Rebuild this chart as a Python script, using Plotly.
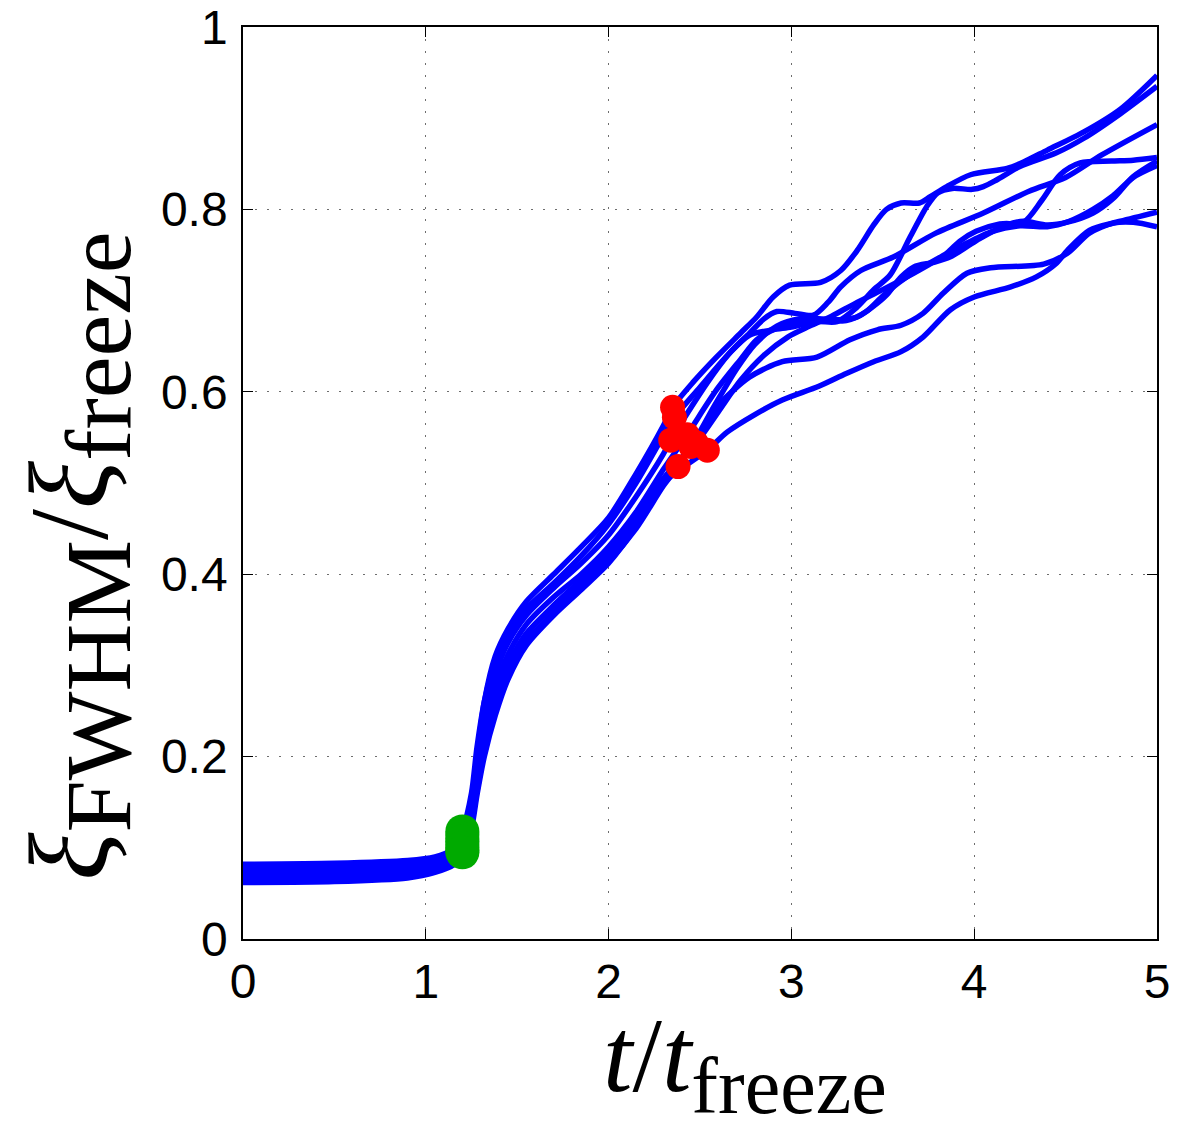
import plotly.graph_objects as go

# ---- data ----
CURVES = ["P", "Q", "R", "E", "F", "G", "H", "I"]

T_EARLY = [0, 0.5, 0.9, 1.05, 1.15, 1.2, 1.25, 1.28, 1.32, 1.38, 1.45, 1.55, 1.7, 1.85, 2.0, 2.15, 2.3]
Y_EARLY = {
    "P": [0.070, 0.071, 0.076, 0.082, 0.090, 0.114, 0.150, 0.200, 0.260, 0.310, 0.340, 0.370, 0.400, 0.430, 0.462, 0.510, 0.563],
    "Q": [0.080, 0.081, 0.084, 0.089, 0.096, 0.118, 0.160, 0.210, 0.260, 0.305, 0.335, 0.362, 0.390, 0.420, 0.455, 0.500, 0.552],
    "R": [0.064, 0.065, 0.070, 0.076, 0.084, 0.103, 0.140, 0.190, 0.240, 0.290, 0.325, 0.355, 0.385, 0.412, 0.443, 0.485, 0.532],
    "E": [0.076, 0.077, 0.080, 0.085, 0.093, 0.110, 0.140, 0.180, 0.228, 0.275, 0.312, 0.345, 0.375, 0.400, 0.430, 0.468, 0.515],
    "F": [0.067, 0.068, 0.072, 0.078, 0.086, 0.097, 0.130, 0.168, 0.212, 0.258, 0.298, 0.334, 0.366, 0.394, 0.424, 0.460, 0.505],
    "G": [0.082, 0.083, 0.086, 0.090, 0.098, 0.107, 0.135, 0.170, 0.215, 0.260, 0.300, 0.335, 0.365, 0.392, 0.420, 0.458, 0.504],
    "H": [0.073, 0.074, 0.077, 0.081, 0.088, 0.100, 0.128, 0.162, 0.205, 0.250, 0.290, 0.326, 0.358, 0.386, 0.414, 0.450, 0.497],
    "I": [0.062, 0.063, 0.067, 0.073, 0.081, 0.095, 0.122, 0.158, 0.200, 0.245, 0.285, 0.322, 0.355, 0.383, 0.412, 0.452, 0.500],
}

T_LATE = {
    "P": [2.35, 2.46, 2.59, 2.72, 2.81, 2.90, 2.99, 3.16, 3.27, 3.36, 3.45, 3.52, 3.60, 3.70, 3.76, 3.85, 3.98, 4.18, 4.27, 4.40, 4.60, 4.80, 5.00],
    "Q": [2.36, 2.50, 2.65, 2.77, 2.90, 3.00, 3.14, 3.25, 3.36, 3.45, 3.54, 3.65, 3.74, 3.80, 3.88, 3.99, 4.05, 4.12, 4.25, 4.45, 4.60, 4.80, 5.00],
    "R": [2.34, 2.54, 2.66, 2.77, 2.85, 2.92, 3.02, 3.12, 3.20, 3.27, 3.38, 3.56, 3.79, 4.05, 4.30, 4.50, 4.70, 5.00],
    "E": [2.43, 2.59, 2.72, 2.81, 2.90, 3.03, 3.17, 3.30, 3.41, 3.50, 3.59, 3.70, 3.85, 3.92, 4.01, 4.14, 4.27, 4.37, 4.47, 4.58, 4.75, 4.87, 5.00],
    "F": [2.45, 2.58, 2.70, 2.80, 2.92, 3.05, 3.15, 3.27, 3.36, 3.45, 3.52, 3.60, 3.67, 3.78, 3.87, 3.96, 4.03, 4.18, 4.27, 4.40, 4.51, 4.65, 4.76, 4.87, 5.00],
    "G": [2.48, 2.60, 2.72, 2.85, 2.98, 3.10, 3.22, 3.35, 3.50, 3.65, 3.80, 3.95, 4.10, 4.25, 4.40, 4.52, 4.65, 4.76, 4.87, 5.00],
    "H": [2.38, 2.50, 2.60, 2.77, 2.95, 3.14, 3.32, 3.47, 3.60, 3.72, 3.83, 3.96, 4.09, 4.38, 4.51, 4.63, 4.76, 4.87, 5.00],
    "I": [2.54, 2.65, 2.80, 2.95, 3.15, 3.30, 3.45, 3.60, 3.72, 3.87, 4.00, 4.20, 4.34, 4.45, 4.51, 4.63, 4.80, 5.00],
}
Y_LATE = {
    "P": [0.583, 0.610, 0.638, 0.664, 0.682, 0.704, 0.717, 0.720, 0.733, 0.755, 0.783, 0.800, 0.807, 0.807, 0.814, 0.825, 0.838, 0.845, 0.852, 0.865, 0.885, 0.910, 0.947],
    "Q": [0.572, 0.605, 0.640, 0.662, 0.668, 0.671, 0.677, 0.677, 0.693, 0.712, 0.728, 0.770, 0.803, 0.818, 0.823, 0.822, 0.825, 0.832, 0.847, 0.862, 0.878, 0.905, 0.935],
    "R": [0.547, 0.610, 0.642, 0.664, 0.680, 0.688, 0.686, 0.684, 0.698, 0.715, 0.733, 0.748, 0.774, 0.796, 0.820, 0.835, 0.860, 0.893],
    "E": [0.553, 0.602, 0.635, 0.657, 0.668, 0.677, 0.679, 0.678, 0.688, 0.705, 0.720, 0.735, 0.752, 0.765, 0.776, 0.784, 0.786, 0.810, 0.838, 0.851, 0.853, 0.854, 0.857],
    "F": [0.540, 0.585, 0.625, 0.652, 0.672, 0.680, 0.680, 0.679, 0.682, 0.694, 0.706, 0.726, 0.737, 0.742, 0.748, 0.759, 0.768, 0.783, 0.787, 0.783, 0.786, 0.796, 0.812, 0.836, 0.853],
    "G": [0.544, 0.578, 0.612, 0.640, 0.660, 0.672, 0.683, 0.697, 0.712, 0.728, 0.745, 0.762, 0.776, 0.782, 0.781, 0.787, 0.800, 0.815, 0.835, 0.848],
    "H": [0.518, 0.555, 0.585, 0.616, 0.633, 0.638, 0.657, 0.668, 0.673, 0.686, 0.708, 0.730, 0.736, 0.740, 0.752, 0.774, 0.785, 0.786, 0.781],
    "I": [0.536, 0.556, 0.575, 0.591, 0.606, 0.620, 0.633, 0.644, 0.660, 0.690, 0.704, 0.715, 0.726, 0.741, 0.755, 0.777, 0.787, 0.797],
}

GREEN_T = 1.2          # green marker time (a point of T_EARLY)
X_TICKS = [0, 1, 2, 3, 4, 5]
Y_TICKS = [0, 0.2, 0.4, 0.6, 0.8, 1]
Y_TICK_TEXT = ["0", "0.2", "0.4", "0.6", "0.8", "1"]

fig = go.Figure()

for name in CURVES:
    xs = T_EARLY + T_LATE[name]
    ys = Y_EARLY[name] + Y_LATE[name]
    fig.add_trace(go.Scatter(x=xs, y=ys, mode="lines",
                             line=dict(color="rgb(0,0,255)", width=5.5, shape="spline", smoothing=0.8),
                             showlegend=False, hoverinfo="skip"))

gi = T_EARLY.index(GREEN_T)
fig.add_trace(go.Scatter(x=[T_EARLY[gi]] * len(CURVES), y=[Y_EARLY[n][gi] for n in CURVES],
                         mode="markers", marker=dict(color="rgb(0,170,0)", size=34, line=dict(width=0)),
                         showlegend=False, hoverinfo="skip"))
fig.add_trace(go.Scatter(x=[T_LATE[n][0] for n in CURVES], y=[Y_LATE[n][0] for n in CURVES],
                         mode="markers", marker=dict(color="rgb(255,0,0)", size=25, line=dict(width=0)),
                         showlegend=False, hoverinfo="skip"))

axis_common = dict(showline=True, linecolor="black", linewidth=1.5, mirror="allticks",
                   ticks="inside", ticklen=10, tickcolor="black", tickwidth=1.2,
                   showgrid=True, gridcolor="rgb(110,110,110)", gridwidth=1, griddash="2px,10px",
                   zeroline=False, automargin=False,
                   tickfont=dict(family="Liberation Sans, Arial, sans-serif", size=48, color="black"))

fig.update_xaxes(range=[0, 5], tickvals=X_TICKS, ticklabelstandoff=0, **axis_common)
fig.update_yaxes(range=[0, 1], tickvals=Y_TICKS, ticktext=Y_TICK_TEXT, ticklabelstandoff=4, **axis_common)

SUB = "<sub><span style='font-size:{}px'>{}</span></sub>"
fig.update_layout(
    width=1197, height=1125,
    margin=dict(l=243, r=40, t=27, b=186),
    plot_bgcolor="white", paper_bgcolor="white",
    annotations=[
        dict(text="<i>t</i>/<i>t</i>" + SUB.format(80, "freeze"),
             xref="paper", yref="paper", x=0.549, y=-0.137, xanchor="center", yanchor="middle",
             showarrow=False, font=dict(family="Liberation Serif, serif", size=106, color="black")),
        dict(text="<i>ξ</i>" + SUB.format(94, "FWHM") + "/<i>ξ</i>" + SUB.format(94, "freeze"),
             xref="paper", yref="paper", x=-0.18, y=0.42, xanchor="center", yanchor="middle",
             textangle=-90, showarrow=False,
             font=dict(family="Liberation Serif, serif", size=112, color="black")),
    ],
)

fig.write_html("out.html")
